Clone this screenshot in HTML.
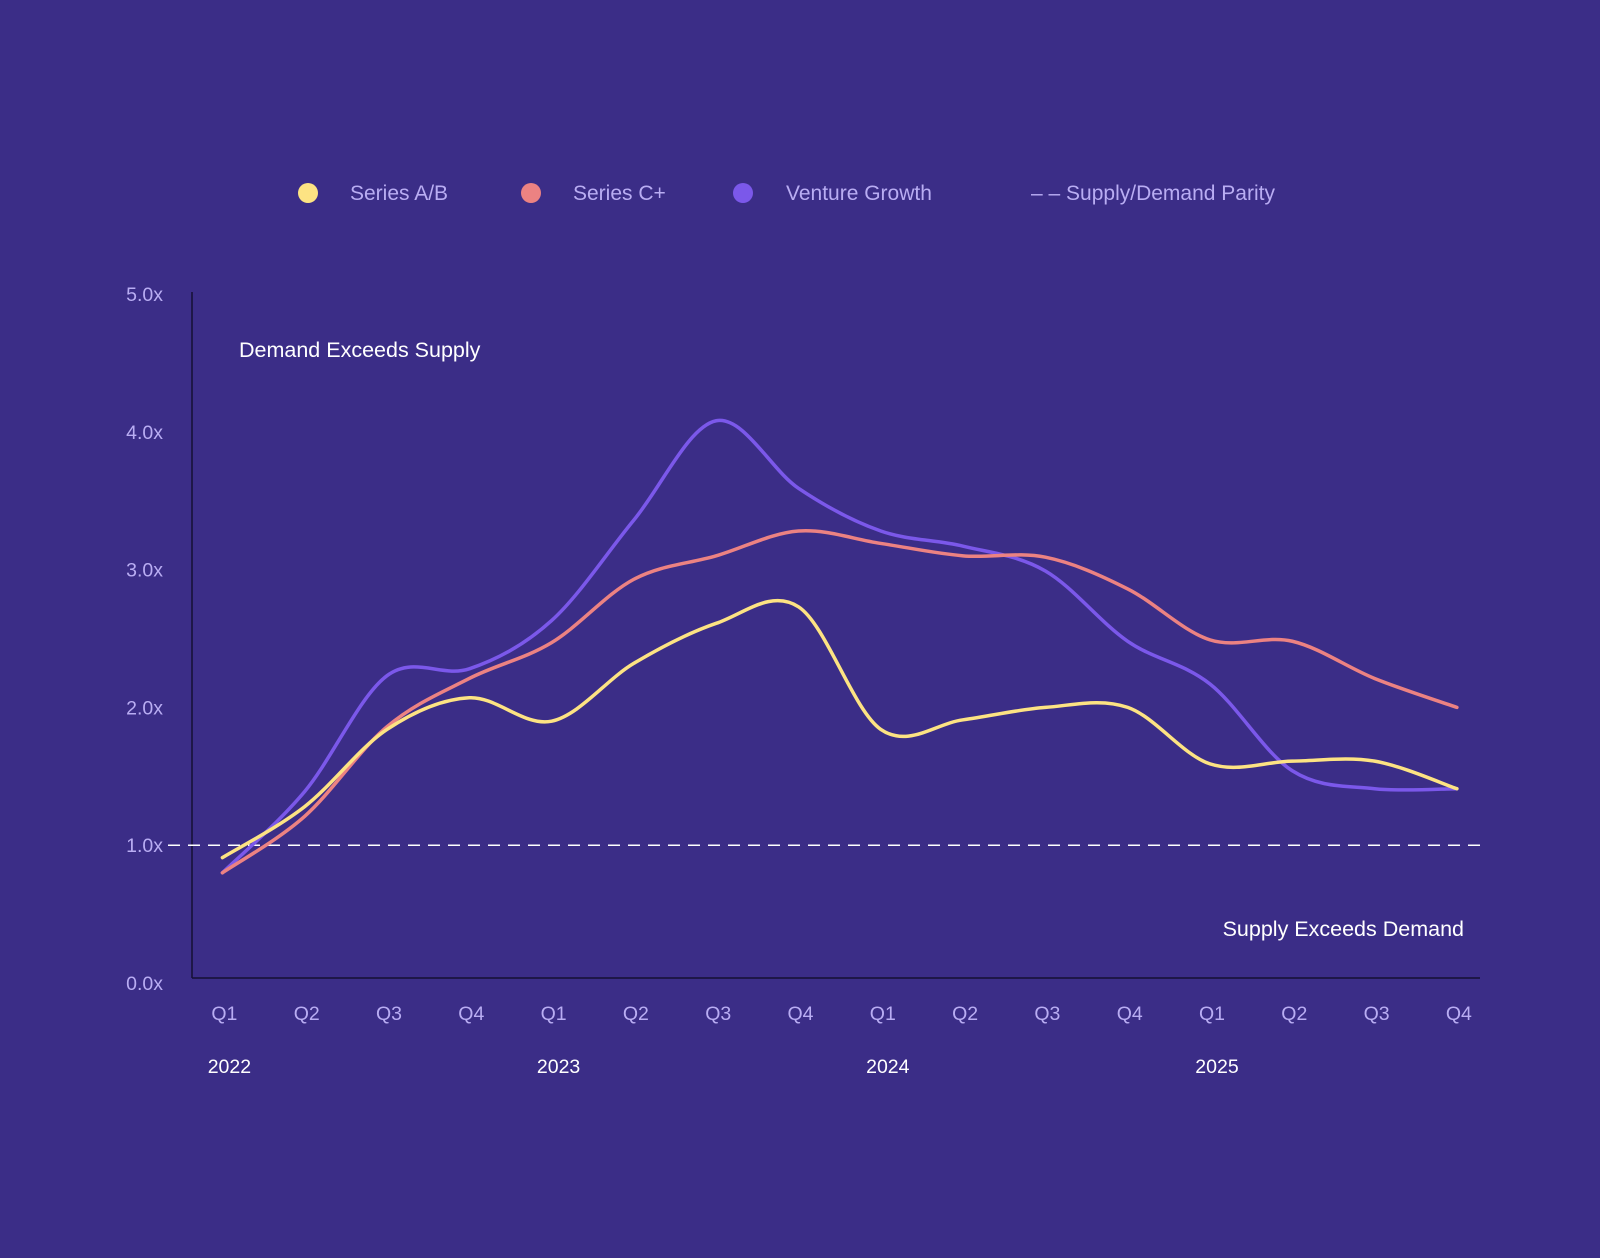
<!DOCTYPE html>
<html><head><meta charset="utf-8"><style>
html,body{margin:0;padding:0;background:#3b2d87;}
svg{display:block;font-family:"Liberation Sans",sans-serif;}
</style></head><body>
<svg id="chart" width="1600" height="1258" viewBox="0 0 1600 1258">
<rect width="1600" height="1258" fill="#3b2d87"/>
<g>
<circle cx="308" cy="193" r="10" fill="#fde383"/>
<text x="350" y="200" font-size="21" fill="#b9adf3">Series A/B</text>
<circle cx="531" cy="193" r="10" fill="#ec8282"/>
<text x="573" y="200" font-size="21" fill="#b9adf3">Series C+</text>
<circle cx="743" cy="193" r="10" fill="#7b58ea"/>
<text x="786" y="200" font-size="21" fill="#b9adf3">Venture Growth</text>
<text x="1031" y="200" font-size="21" fill="#b9adf3">– – Supply/Demand Parity</text>
</g>
<g id="axes"></g>
<g id="series"></g>
<text x="239" y="357" font-size="21.5" fill="#ffffff">Demand Exceeds Supply</text>
<text x="1464" y="936" font-size="21.5" fill="#ffffff" text-anchor="end">Supply Exceeds Demand</text>
</svg>
<script>
const quarters=["Q1","Q2","Q3","Q4","Q1","Q2","Q3","Q4","Q1","Q2","Q3","Q4","Q1","Q2","Q3","Q4"];
const years=["2022","2023","2024","2025"];
const yTicks=[0,1,2,3,4,5];
const yTickLabels=["0.0x","1.0x","2.0x","3.0x","4.0x","5.0x"];
const seriesAB=[0.91,1.28,1.84,2.07,1.90,2.32,2.61,2.73,1.84,1.91,2.00,2.00,1.59,1.61,1.61,1.41];
const seriesC=[0.80,1.21,1.86,2.21,2.47,2.93,3.10,3.28,3.19,3.10,3.09,2.86,2.49,2.48,2.21,2.00];
const ventureGrowth=[0.80,1.39,2.23,2.28,2.63,3.36,4.08,3.59,3.28,3.17,2.99,2.48,2.17,1.54,1.41,1.41];
const parity=1.0;

const NS="http://www.w3.org/2000/svg";
const x=i=>222.4+i*82.3;
const y=v=>983-137.8*v;
function mk(tag,attrs,parent,text){const e=document.createElementNS(NS,tag);for(const k in attrs)e.setAttribute(k,attrs[k]);if(text!==undefined)e.textContent=text;parent.appendChild(e);return e;}
const ax=document.getElementById('axes'), sg=document.getElementById('series');
let e=mk('line',{x1:192,y1:292,x2:192,y2:978,stroke:'#141033','stroke-width':1.5},ax);


e=mk('line',{x1:192,y1:978,x2:1480,y2:978,stroke:'#141033','stroke-width':1.5},ax);


yTicks.forEach((t,i)=>{const el=mk('text',{x:163,y:y(t)+7,'font-size':19.5,fill:'#b9adf3','text-anchor':'end'},ax,yTickLabels[i]);

});
quarters.forEach((q,i)=>{const el=mk('text',{x:x(i)+2,y:1020,'font-size':19.5,fill:'#b9adf3','text-anchor':'middle'},ax,q);

});
years.forEach((yr,i)=>{const el=mk('text',{x:x(i*4)+7,y:1073,'font-size':19.5,fill:'#ffffff','text-anchor':'middle'},ax,yr);

});
e=mk('line',{x1:168,y1:y(parity),x2:1480,y2:y(parity),stroke:'#ffffff','stroke-width':1.5,'stroke-dasharray':'12 8'},ax);


function smooth(vals){const p=vals.map((v,i)=>[x(i),y(v)]);let d=`M${p[0][0]},${p[0][1]}`;
for(let i=0;i<p.length-1;i++){const p0=p[i-1]||p[i],p1=p[i],p2=p[i+1],p3=p[i+2]||p2;
const c1=[p1[0]+(p2[0]-p0[0])/6,p1[1]+(p2[1]-p0[1])/6],c2=[p2[0]-(p3[0]-p1[0])/6,p2[1]-(p3[1]-p1[1])/6];
d+=` C${c1[0]},${c1[1]} ${c2[0]},${c2[1]} ${p2[0]},${p2[1]}`;}return d;}
[[ventureGrowth,'#7b58ea','line-venture-growth'],[seriesC,'#ec8282','line-series-c'],[seriesAB,'#fde383','line-series-ab']].forEach(s=>{
const el=mk('path',{d:smooth(s[0]),fill:'none',stroke:s[1],'stroke-width':3.5,'stroke-linecap':'round'},sg);

});
</script>
</body></html>
